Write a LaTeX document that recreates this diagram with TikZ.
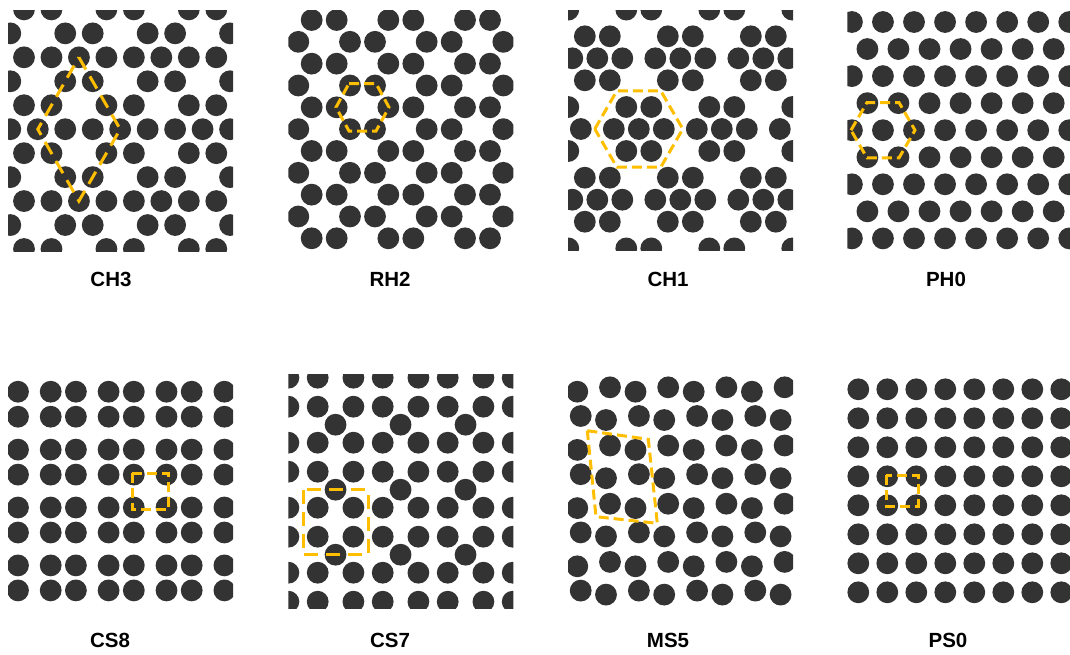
\documentclass[tikz,border=0pt]{standalone}
\usepackage{fontspec}
\setmainfont{Liberation Sans}
\usepackage{xcolor}
\definecolor{atomgray}{RGB}{51,51,51}
\definecolor{cellgold}{RGB}{255,191,0}

\begin{document}
\begin{tikzpicture}[
  x=1pt, y=-1pt,
  atom/.style={fill=atomgray},
  cell/.style={draw=cellgold, line width=3pt, dash pattern=on 10pt off 5pt},
  longcell/.style={cell, dash pattern=on 14pt off 8pt},
  lbl/.style={anchor=base, font=\fontsize{20.5}{24}\selectfont\bfseries},
]
  \useasboundingbox (0,0) rectangle (1070,654);

  % CH3
  \begin{scope}
    \clip (8,10) rectangle (233,251);
    \foreach \r/\xo/\ks in {0/24.0/{0,1,3,4,6,7}, 1/10.3/{0,2,3,5,6,8}, 2/24.0/{0,...,7},
                            3/10.3/{0,2,3,5,6,8}, 4/24.0/{0,1,3,4,6,7}, 5/10.3/{0,...,8},
                            6/24.0/{0,1,3,4,6,7}, 7/10.3/{0,2,3,5,6,8}, 8/24.0/{0,...,7},
                            9/10.3/{0,2,3,5,6,8}, 10/24.0/{0,1,3,4,6,7}}
      \foreach \k in \ks
        \fill[atom] ({\xo+27.47*\k},{9.4+23.96*\r}) circle[radius=10.9pt];
  \end{scope}
  \draw[longcell] (78.9,57.3) -- (120.2,129.2) -- (78.9,201.1) -- (37.8,129.2) -- cycle;

  % RH2
  \begin{scope}
    \clip (288.3,10) rectangle (513.3,250);
    \foreach \r in {0,...,10} {
      \pgfmathsetmacro\xo{mod(\r,2)==0 ? 324.17 : 362.5}
      \foreach \m in {-1,...,3}
        \foreach \s in {-1,1}
          \fill[atom] ({\xo+76.67*\m+12.5*\s},{20+21.83*\r}) circle[radius=10.9pt];
    }
  \end{scope}
  \draw[cell] (349,83.5) -- (376,83.5) -- (389,107.3) -- (376,131) -- (349,131) -- (336,107.3) -- cycle;

  % CH1
  \begin{scope}
    \clip (568,10) rectangle (793,250);
    \foreach \c in {-1,...,3} {
      \pgfmathsetmacro\xo{mod(\c+2,2)==0 ? 597.33 : 638.8}
      \foreach \m in {-1,...,2}
        \foreach \dx/\dy in {-12.5/-22,12.5/-22,-25/0,0/0,25/0,-12.5/22,12.5/22}
          \fill[atom] ({\xo+83*\m+\dx},{58.3+70.7*\c+\dy}) circle[radius=10.9pt];
    }
  \end{scope}
  \draw[cell] (594.8,129) -- (616.8,90.9) -- (660.8,90.9) -- (682.8,129) -- (660.8,167.1) -- (616.8,167.1) -- cycle;

  % PH0
  \begin{scope}
    \clip (847.3,10) rectangle (1070,250);
    \foreach \r in {0,...,8} {
      \pgfmathsetmacro\xo{mod(\r,2)==0 ? 851.9 : 867.4}
      \foreach \k in {0,...,7}
        \fill[atom] ({\xo+31.05*\k},{22+27.05*\r}) circle[radius=10.9pt];
    }
  \end{scope}
  \draw[cell] (851,130.2) -- (867,102.5) -- (899,102.5) -- (915,130.2) -- (899,157.9) -- (867,157.9) -- cycle;

  % CS8
  \begin{scope}
    \clip (8,378) rectangle (233,605);
    \foreach \m in {0,...,4}
      \foreach \n in {0,...,3}
        \foreach \sx/\sy in {-1/-1,1/-1,-1/1,1/1}
          \fill[atom] ({5.4+57.9*\m+12.6*\sx},{404.2+57.9*\n+12.5*\sy}) circle[radius=10.9pt];
  \end{scope}
  \draw[cell] (132,473) rectangle (168.5,509);

  % CS7
  \begin{scope}
    \clip (288.3,374) rectangle (513.3,608.3);
    \foreach \m in {-1,...,3}
      \foreach \n in {-1,...,3}
        \foreach \dx/\dy in {0/0,35.7/0,0/36,35.7/36}
          \fill[atom] ({317.7+65*\m+\dx},{406.7+65*\n+\dy}) circle[radius=10.9pt];
    \foreach \m in {0,...,2}
      \foreach \n in {0,...,2}
        \fill[atom] ({335.55+65*\m},{424.7+65*\n}) circle[radius=10.9pt];
  \end{scope}
  \draw[longcell] (303,489.7) rectangle (368,554.7);

  % MS5
  \begin{scope}
    \clip (568,374) rectangle (793,608);
    \foreach \i in {0,...,3}
      \foreach \j in {0,...,3}
        \foreach \bx/\by in {577.3/391.7,610/387.3,580.7/416,606/420}
          \fill[atom] ({\bx+58.2*\i},{\by+58.2*\j}) circle[radius=10.9pt];
  \end{scope}
  \draw[cell] (587.3,430.7) -- (648.3,439.3) -- (657.3,523.3) -- (596,516.7) -- cycle;

  % PS0
  \begin{scope}
    \clip (847,378) rectangle (1070,604);
    \foreach \i in {0,...,7}
      \foreach \j in {0,...,7}
        \fill[atom] ({858.3+29*\i},{389.3+29*\j}) circle[radius=10.9pt];
  \end{scope}
  \draw[cell] (886,475) rectangle (918,506);

  \node[lbl] (lblCH3) at (111,286.5) {CH3};
  \node[lbl] (lblRH2) at (390,286.5) {RH2};
  \node[lbl] (lblCH1) at (668,286.5) {CH1};
  \node[lbl] (lblPH0) at (946,286.5) {PH0};
  \node[lbl] (lblCS8) at (110,647) {CS8};
  \node[lbl] (lblCS7) at (390,647) {CS7};
  \node[lbl] (lblMS5) at (668,647) {MS5};
  \node[lbl] (lblPS0) at (948,647) {PS0};
\end{tikzpicture}
\end{document}
